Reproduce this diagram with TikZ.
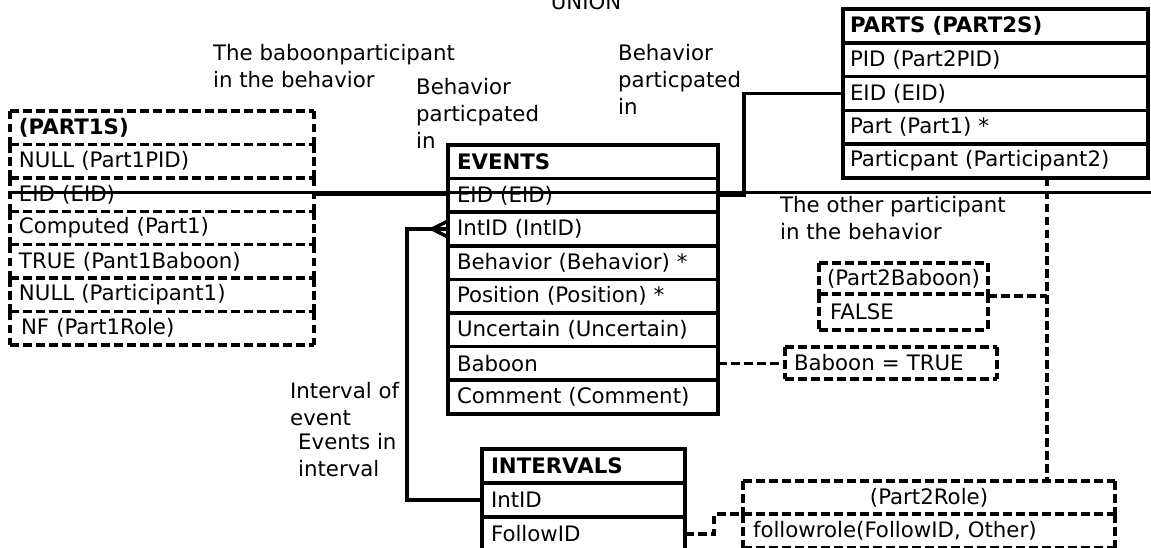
\documentclass[tikz,border=0pt]{standalone}
\usepackage{fontspec}
\setmainfont{DejaVu Sans}
\begin{document}
\begin{tikzpicture}[x=1pt,y=-1pt,
  every node/.style={font=\fontsize{21.3}{27}\selectfont},
  cell/.style={draw, line width=3.6pt, anchor=north west, inner ysep=0pt, outer sep=0pt, align=left},
  dframe/.style={draw, line width=3.4pt, dash pattern=on 8.5pt off 4.5pt},
  % dashed cells: each edge drawn left-to-right / top-to-bottom so shared edges keep one dash phase
  dcell/.style={cell, draw=none, append after command={
      (\tikzlastnode.north west) edge[dframe] (\tikzlastnode.north east)
      (\tikzlastnode.south west) edge[dframe] (\tikzlastnode.south east)
      (\tikzlastnode.north west) edge[dframe] (\tikzlastnode.south west)
      (\tikzlastnode.north east) edge[dframe] (\tikzlastnode.south east)}},
  note/.style={anchor=base west, inner sep=0pt, align=left},
  conn/.style={line width=3.4pt},
  dconn/.style={line width=3.4pt, dash pattern=on 8.5pt off 4.5pt},
  sepline/.style={line width=2.6pt},
  % table geometries
  p1cell/.style={dcell, text width=286pt, inner xsep=9pt, minimum height=33.43pt},
  evcell/.style={cell, text width=252pt, inner xsep=9pt, minimum height=33.6pt},
  ptcell/.style={cell, text width=291pt, inner xsep=7pt, minimum height=33.8pt},
  incell/.style={cell, text width=185pt, inner xsep=9pt, minimum height=34pt}]
\useasboundingbox[fill=white] (0,0) rectangle (1151,548);

% headline
\node[anchor=base, inner sep=0pt] (union) at (586,10) {UNION};

% PART1S (derived, dashed)
\node[p1cell] (p1-head) at (10,111) {\textbf{(PART1S)}};
\node[p1cell] (p1-pid)  at (p1-head.south west) {NULL (Part1PID)};
\node[p1cell] (p1-eid)  at (p1-pid.south west)  {EID (EID)};
\node[p1cell] (p1-part) at (p1-eid.south west)  {Computed (Part1)};
\node[p1cell] (p1-bab)  at (p1-part.south west) {TRUE (Pant1Baboon)};
\node[p1cell] (p1-par)  at (p1-bab.south west)  {NULL (Participant1)};
\node[p1cell] (p1-role) at (p1-par.south west)  {\hspace{2pt}NF (Part1Role)};

% EVENTS
\node[evcell] (ev-head)  at (448,145) {\textbf{EVENTS}};
\node[evcell] (ev-eid)   at (ev-head.south west)  {EID (EID)};
\node[evcell] (ev-intid) at (ev-eid.south west)   {IntID (IntID)};
\node[evcell] (ev-beh)   at (ev-intid.south west) {Behavior (Behavior) *};
\node[evcell] (ev-pos)   at (ev-beh.south west)   {Position (Position) *};
\node[evcell] (ev-unc)   at (ev-pos.south west)   {Uncertain (Uncertain)};
\node[evcell] (ev-bab)   at (ev-unc.south west)   {Baboon};
\node[evcell] (ev-com)   at (ev-bab.south west)   {Comment (Comment)};

% PARTS
\node[ptcell] (pt-head)   at (843,9) {\textbf{PARTS (PART2S)}};
\node[ptcell] (pt-pid)    at (pt-head.south west) {PID (Part2PID)};
\node[ptcell] (pt-eid)    at (pt-pid.south west)  {EID (EID)};
\node[ptcell] (pt-part)   at (pt-eid.south west)  {Part (Part1) *};
\node[ptcell] (pt-partic) at (pt-part.south west) {Particpant (Participant2)};

% INTERVALS
\node[incell] (in-head) at (482,449) {\textbf{INTERVALS}};
\node[incell] (int-id)  at (in-head.south west) {IntID};
\node[incell] (int-fol) at (int-id.south west)  {FollowID};

% computed columns (dashed)
\node[dcell, text width=153pt, inner xsep=8pt, minimum height=31pt] (p2bab) at (819,263) {(Part2Baboon)};
\node[dcell, text width=147pt, inner xsep=11pt, minimum height=36pt] (p2false) at (p2bab.south west) {FALSE};
\node[dcell, text width=194pt, inner xsep=9pt, minimum height=32pt] (babtrue) at (785,347) {Baboon = TRUE};
\node[dcell, text width=352pt, inner xsep=10pt, minimum height=33pt, align=center] (p2role) at (743,481) {(Part2Role)};
\node[dcell, text width=352pt, inner xsep=10pt, minimum height=34pt] (frole) at (p2role.south west) {followrole(FollowID, Other)};

% annotations (anchored on the baseline of their last line)
\node[note] (lab-bab)   at (213,88)  {The baboonparticipant\\in the behavior};
\node[note] (lab-beh1)  at (416,149) {Behavior\\particpated\\in};
\node[note] (lab-beh2)  at (618,115) {Behavior\\particpated\\in};
\node[note] (lab-other) at (780,240) {The other participant\\in the behavior};
\node[note] (lab-int)   at (290,425) {Interval of\\event};
\node[note] (lab-evs)   at (298,476) {Events in\\interval};

% separator running across the picture
\coordinate (sepL) at (8,192.5);
\coordinate (sepR) at (1151,192.5);
\draw[sepline] (sepL) -- (sepR);

% relationships
\draw[conn] (p1-eid.east) -- (p1-eid.east -| ev-eid.west);
\draw[conn] (ev-eid.east) -- ++(26,0) |- (pt-eid.west);
\draw[conn] (int-id.west) -- ++(-75,0) |- (ev-intid.west);
\draw[conn] (ev-intid.west) ++(0,-8) -- ++(-16,8) -- ++(16,8);

% derivations (dashed)
\coordinate (drop) at (1047,296);
\draw[dconn] (drop |- pt-partic.south) -- (drop |- p2role.north);
\draw[dconn] (p2bab.south east) ++(0,2) -- (drop);
\draw[dconn] (ev-bab.east) -- (ev-bab.east -| babtrue.west);
\draw[dconn] (int-fol.east) -- ++(29,0) |- (p2role.south west);
\end{tikzpicture}
\end{document}
